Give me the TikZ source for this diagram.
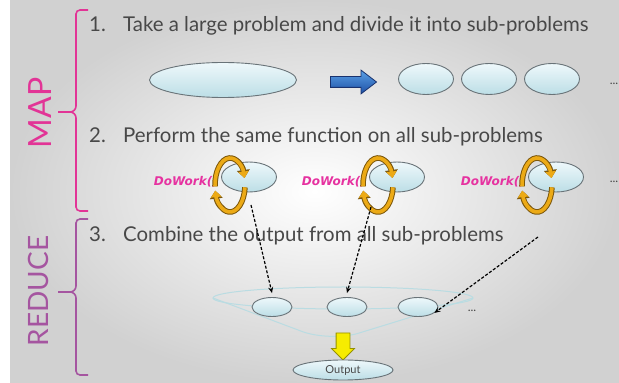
\documentclass[tikz,border=0pt]{standalone}
\usepackage{fontspec}
\setmainfont{Lato}
\newfontfamily\dowfont{DejaVu Sans}
\usetikzlibrary{arrows.meta,shapes.geometric,shapes.arrows}
\definecolor{mapcol}{RGB}{226,52,150}
\definecolor{redcol}{RGB}{165,85,160}
\definecolor{txtcol}{RGB}{72,72,72}
\definecolor{blobtop}{RGB}{238,248,251}
\definecolor{blobbot}{RGB}{188,222,230}
\definecolor{blobline}{RGB}{105,115,120}
\definecolor{ringcol}{RGB}{236,170,22}
\definecolor{ringline}{RGB}{125,88,12}
\definecolor{dowcol}{RGB}{230,50,160}
\definecolor{funcol}{RGB}{186,220,226}
\definecolor{bluetop}{RGB}{90,160,230}
\definecolor{bluebot}{RGB}{30,80,165}
\definecolor{blueline}{RGB}{25,50,110}
\definecolor{yelcol}{RGB}{246,236,0}
\definecolor{yelline}{RGB}{150,145,0}
\tikzset{
  txt/.style={text=txtcol,font=\fontsize{20.4}{20.4}\selectfont,inner sep=0pt},
  blob/.style={ellipse,draw=blobline,line width=0.9pt,top color=blobtop,bottom color=blobbot,inner sep=0pt},
  dow/.style={text=dowcol,font=\dowfont\bfseries\itshape\fontsize{12}{12}\selectfont,inner sep=0pt},
  brc/.style={line width=1.6pt},
  ringo/.style={draw=ringline,line width=5.6pt,-{Triangle[length=8pt,width=12.5pt]}},
  ringi/.style={draw=ringcol,line width=3.6pt,-{Triangle[length=6.5pt,width=10pt]}},
  dsh/.style={-{Stealth[length=6pt,width=5pt]},line width=1.2pt,dash pattern=on 3pt off 1.8pt},
  funnel/.style={draw=funcol,line width=1pt},
  dots/.style={text=txtcol,font=\fontsize{12}{12}\selectfont,inner sep=0pt}
}

\begin{document}
\begin{tikzpicture}[x=1pt,y=1pt]
\useasboundingbox (0,0) rectangle (619,383);
\fill[white] (0,0) rectangle (619,383);
\shade[inner color=white,outer color=black!18] (10,0) rectangle (619,383);

% side labels and braces
\node[rotate=90,text=mapcol,font=\fontsize{32}{32}\selectfont] (lmap) at (40,270) {MAP};
\node[rotate=90,text=redcol,font=\fontsize{28}{28}\selectfont] (lred) at (38,92) {REDUCE};
\draw[brc,mapcol] (88,373) -- (80,373) arc[start angle=90,end angle=180,radius=4] -- (76,277) arc[start angle=0,end angle=-90,radius=6] -- (58,271);
\draw[brc,mapcol] (88,172) -- (80,172) arc[start angle=-90,end angle=-180,radius=4] -- (76,265) arc[start angle=0,end angle=90,radius=6] -- (58,271);
\draw[brc,redcol] (88,164) -- (80,164) arc[start angle=90,end angle=180,radius=4] -- (76,97) arc[start angle=0,end angle=-90,radius=6] -- (58,91);
\draw[brc,redcol] (88,8) -- (80,8) arc[start angle=-90,end angle=-180,radius=4] -- (76,85) arc[start angle=0,end angle=90,radius=6] -- (58,91);

% steps
\node[txt,anchor=base west] (n1) at (89,351) {1.};
\node[txt,anchor=base west] (s1) at (123,351) {Take a large problem and divide it into sub-problems};
\node[txt,anchor=base west] (n2) at (89,240) {2.};
\node[txt,anchor=base west] (s2) at (123,240) {Perform the same function on all sub-problems};
\node[txt,anchor=base west] (n3) at (89,141) {3.};
\node[txt,anchor=base west] (s3) at (123,141) {Combine the output from all sub-problems};

% divide
\node[blob,minimum width=147,minimum height=35] (big) at (223,303) {};
\node[single arrow,draw=blueline,line width=0.8pt,top color=bluetop,bottom color=bluebot,
  minimum height=46,inner xsep=0pt,inner ysep=5pt,single arrow head extend=6.5pt,single arrow tip angle=75] (arr) at (350,301) {};
\foreach \x [count=\i] in {426,489,552}
  \node[blob,minimum width=55,minimum height=31] (p\i) at (\x,304) {};
\node[dots] (d1) at (614,299) {...};

% map
\foreach \x [count=\i] in {249,397,556}{
  \node[blob,minimum width=55,minimum height=30] (w\i) at (\x,206) {};
  \node[dow,anchor=east] (f\i) at (\x-31,201) {DoWork()};
  \coordinate (k\i) at (\x-19,198);
  \draw[ringo] (k\i) ++(183:15 and 27) arc[start angle=183,end angle=15,x radius=15,y radius=27];
  \draw[ringo] (k\i) ++(-5:15 and 27) arc[start angle=-5,end angle=-168,x radius=15,y radius=27];
  \draw[ringi] (k\i) ++(183:15 and 27) arc[start angle=183,end angle=15,x radius=15,y radius=27];
  \draw[ringi] (k\i) ++(-5:15 and 27) arc[start angle=-5,end angle=-168,x radius=15,y radius=27];
}
\node[dots] (d2) at (614,201) {...};

% reduce
\draw[funnel] (343,85) ellipse[x radius=130,y radius=11];
\draw[funnel,rounded corners=30pt] (213,85) -- (330,41) -- (473,85);
\foreach \x [count=\i] in {272,347,418}
  \node[blob,minimum width=40,minimum height=19] (r\i) at (\x,76) {};
\node[dots] (d3) at (472,72) {...};
\node[single arrow,draw=yelline,line width=0.8pt,fill=yelcol,rotate=-90,
  minimum height=27,inner xsep=0pt,inner ysep=6.5pt,single arrow head extend=4.5pt,single arrow tip angle=90] (ya) at (343,40) {};
\node[blob,minimum width=100,minimum height=20,text=txtcol,font=\fontsize{11}{11}\selectfont] (out) at (343,13) {Output};

% dashed links
\coordinate (c1) at (251,178);
\coordinate (c2) at (371,176);
\coordinate (c3) at (538,146);
\draw[dsh] (c1) -- ([yshift=4pt]r1.north);
\draw[dsh] (c2) -- ([yshift=4pt]r2.north);
\draw[dsh] (c3) -- (r3.-20);
\end{tikzpicture}
\end{document}
